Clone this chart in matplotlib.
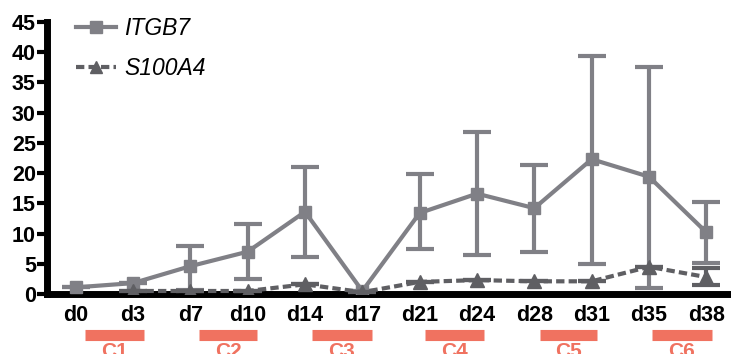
import matplotlib
matplotlib.use("Agg")
import matplotlib.pyplot as plt
import matplotlib.transforms as mtransforms
from matplotlib.lines import Line2D
import numpy as np

days = ["d0", "d3", "d7", "d10", "d14", "d17", "d21", "d24", "d28", "d31", "d35", "d38"]
itgb7 = [1.1, 1.8, 4.6, 7.0, 13.6, 0.5, 13.4, 16.6, 14.2, 22.3, 19.4, 10.2]
itgb7_upper = [1.1, 1.8, 7.9, 11.6, 21.0, 0.5, 19.8, 26.8, 21.3, 39.3, 37.5, 15.2]
itgb7_lower = [1.1, 1.8, 0.7, 2.4, 6.1, 0.5, 7.4, 6.4, 6.9, 4.9, 1.0, 5.1]

s_days = ["d3", "d7", "d10", "d14", "d17", "d21", "d24", "d28", "d31", "d35", "d38"]
s100a4 = [0.5, 0.5, 0.5, 1.6, 0.3, 2.0, 2.3, 2.1, 2.1, 4.5, 2.8]
s100a4_upper = [0.5, 0.5, 0.5, 1.6, 0.3, 2.0, 2.3, 2.1, 2.1, 4.5, 4.3]
s100a4_lower = [0.5, 0.5, 0.5, 1.6, 0.3, 2.0, 2.3, 2.1, 2.1, 4.5, 1.5]

cycles = ["C1", "C2", "C3", "C4", "C5", "C6"]
cycle_start = [0.17, 2.15, 4.13, 6.10, 8.09, 10.06]
cycle_end = [1.19, 3.17, 5.16, 7.13, 9.10, 11.09]

plt.rcParams['font.family'] = ['Liberation Sans', 'DejaVu Sans']

fig = plt.figure(figsize=(7.31, 3.54), dpi=100)
ax = fig.add_axes([47/731, 60/354, 1 - 47/731, (294-22)/354])

x = np.arange(len(days))
xs = np.array([days.index(d) for d in s_days])

c1 = "#808086"
c2 = "#5f5f63"

it = np.array(itgb7)
ax.errorbar(x, it, yerr=[it - np.array(itgb7_lower), np.array(itgb7_upper) - it],
            color=c1, lw=3, marker="s", ms=9, capsize=10, capthick=3, elinewidth=3,
            zorder=3)
sa = np.array(s100a4)
ax.errorbar(xs, sa, yerr=[sa - np.array(s100a4_lower), np.array(s100a4_upper) - sa],
            color=c2, lw=3, ls=(0, (2, 1)), marker="^", ms=10, capsize=10, capthick=3,
            elinewidth=3, zorder=4)

ax.set_xlim(-0.5, 11.43)
ax.set_ylim(0, 45)
ax.set_yticks(np.arange(0, 46, 5))
ax.set_xticks(x)
ax.set_xticklabels(days)
for s in ["top", "right"]:
    ax.spines[s].set_visible(False)
for s in ["left", "bottom"]:
    ax.spines[s].set_linewidth(5)
    ax.spines[s].set_color("black")
ax.tick_params(axis="y", length=7, width=3, direction="out", pad=1,
               labelsize=15.5)
ax.tick_params(axis="x", length=0, pad=8, labelsize=15.5)
for lab in ax.get_xticklabels() + ax.get_yticklabels():
    lab.set_fontweight("bold")

handles = [Line2D([], [], color=c1, lw=3, marker="s", ms=8),
           Line2D([], [], color=c2, lw=3, ls=(0, (2, 1)), marker="^", ms=9)]
ax.legend(handles, ["ITGB7", "S100A4"], loc="upper left",
          bbox_to_anchor=(0.012, 1.095), frameon=False,
          prop={"style": "italic", "size": 16.5}, handlelength=1.75,
          labelspacing=0.75, handletextpad=0.35)

trans = mtransforms.blended_transform_factory(ax.transData, fig.transFigure)
orange = "#f07260"
for name, a, b in zip(cycles, cycle_start, cycle_end):
    ax.plot([a, b], [1 - 335/354, 1 - 335/354], transform=trans, color=orange,
            lw=8, solid_capstyle="butt", clip_on=False)
    ax.text((a + b) / 2, 1 - 342/354, name, transform=trans, color=orange,
            fontsize=15, fontweight="bold", ha="center", va="top", clip_on=False)

fig.savefig("out.png", dpi=100)
